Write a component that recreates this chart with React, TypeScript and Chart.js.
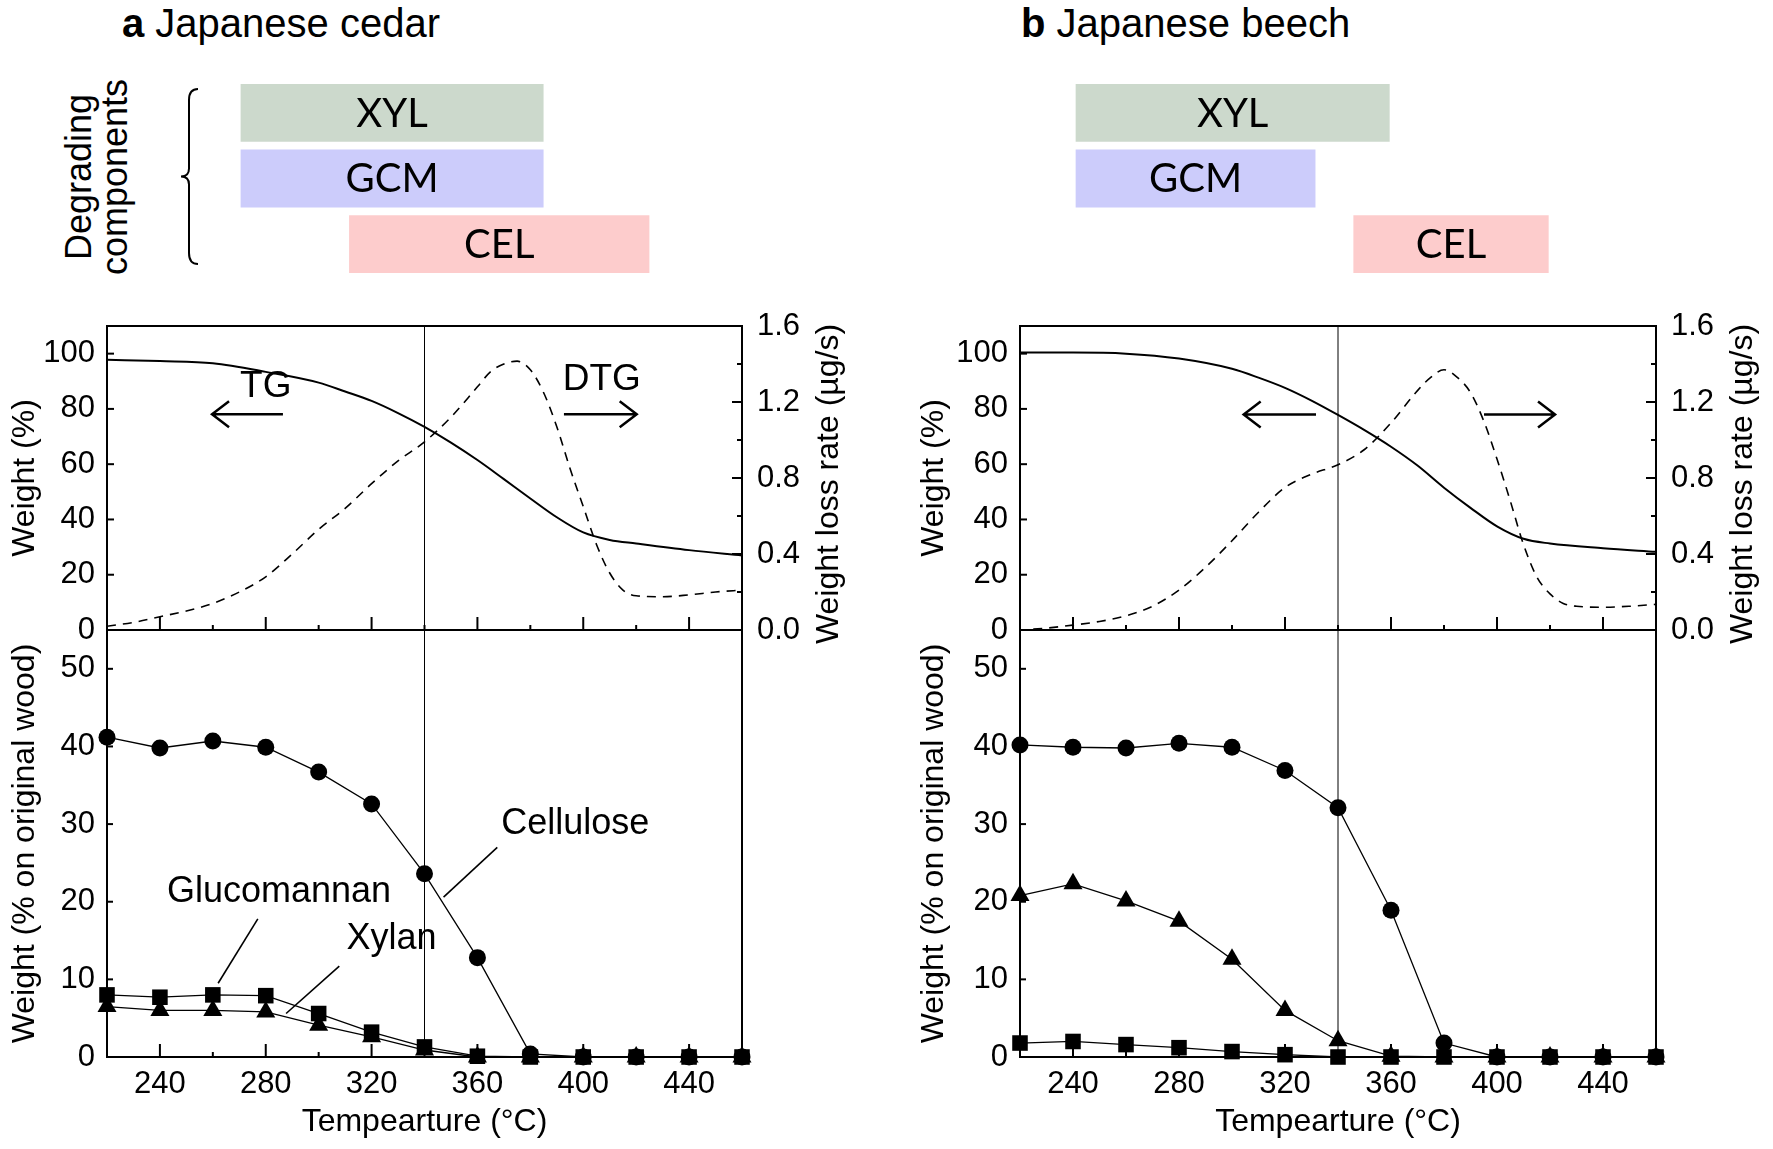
import React, { useEffect, useRef } from "react";
import { Chart, registerables } from "chart.js";

Chart.register(...registerables);

// ---------------- Data ----------------
const componentLabels = ["XYL", "GCM", "CEL"];
const rangesCedar: [number, number][] = [[270.5, 385], [270.5, 385], [311.5, 425]];
const rangesBeech: [number, number][] = [[241, 359.5], [241, 331.5], [345.8, 419.5]];
const barColors = ["#ccd9cc", "#ccccfb", "#fdcccc"];

// TG (weight %) - Japanese cedar
const tgTempA = [220, 240, 260, 280, 300, 310, 320, 330, 340, 350, 360, 370, 380, 390, 400, 410, 420, 440, 460];
const tgWeightA = [97.8, 97.3, 96.5, 93.4, 89.5, 86.3, 82.9, 78.5, 73.5, 67.8, 61.5, 54.6, 47.6, 40.8, 35.3, 32.6, 31.3, 28.9, 27];
// DTG (µg/s) - Japanese cedar
const dtgTempA = [220, 230, 240, 250, 260, 270, 280, 290, 300, 310, 320, 330, 340, 350, 360, 365, 370, 375, 380, 385, 390, 395, 400, 405, 410, 415, 420, 430, 440, 450, 460];
const dtgRateA = [0.02, 0.04, 0.07, 0.1, 0.14, 0.2, 0.28, 0.4, 0.53, 0.64, 0.77, 0.89, 0.99, 1.12, 1.28, 1.36, 1.4, 1.415, 1.37, 1.25, 1.07, 0.85, 0.65, 0.45, 0.3, 0.21, 0.18, 0.175, 0.185, 0.2, 0.21];

// TG - Japanese beech
const tgTempB = [220, 240, 260, 280, 300, 310, 320, 330, 340, 350, 360, 370, 380, 390, 400, 410, 420, 440, 460];
const tgWeightB = [100.4, 100.4, 100, 98.2, 94.5, 91.3, 87.6, 83, 77.8, 72.3, 66.3, 59.5, 51.5, 44.2, 37.5, 33, 31.3, 29.6, 28.3];
// DTG - Japanese beech
const dtgTempB = [225, 230, 240, 250, 260, 270, 280, 290, 300, 310, 320, 330, 340, 350, 360, 370, 375, 380, 385, 390, 395, 400, 405, 410, 415, 420, 425, 430, 440, 450, 460];
const dtgRateB = [0.005, 0.01, 0.026, 0.045, 0.075, 0.125, 0.21, 0.33, 0.47, 0.62, 0.75, 0.82, 0.87, 0.95, 1.09, 1.26, 1.33, 1.37, 1.33, 1.25, 1.1, 0.9, 0.68, 0.45, 0.28, 0.19, 0.14, 0.125, 0.12, 0.125, 0.135];

// Component contents (% on original wood)
const sampleTemps = [220, 240, 260, 280, 300, 320, 340, 360, 380, 400, 420, 440, 460];
const celluloseA = [41.2, 39.8, 40.7, 39.9, 36.7, 32.6, 23.6, 12.8, 0.4, 0, 0, 0, 0];
const glucomannanA = [8.0, 7.7, 8.0, 7.9, 5.6, 3.2, 1.3, 0.1, 0, 0, 0, 0, 0];
const xylanA = [6.5, 6.0, 6.0, 5.8, 4.1, 2.6, 0.9, 0, 0, 0, 0, 0, 0];
const celluloseB = [40.2, 39.9, 39.8, 40.4, 39.9, 36.9, 32.1, 18.9, 1.8, 0, 0, 0, 0];
const xylanB = [20.8, 22.3, 20.1, 17.5, 12.6, 6.0, 2.1, 0.1, 0, 0, 0, 0, 0];
const glucomannanB = [1.8, 2.0, 1.6, 1.2, 0.7, 0.3, 0, 0, 0, 0, 0, 0, 0];

// Ticks
const xTickLabels = [240, 280, 320, 360, 400, 440];
const xMinorTicks = [260, 300, 340, 380, 420];
const tgTicks = [0, 20, 40, 60, 80, 100];
const dtgTicks = [0, 0.4, 0.8, 1.2, 1.6];
const dtgMinorTicks = [0.2, 0.6, 1.0, 1.4];
const compTicks = [0, 10, 20, 30, 40, 50];
const refTemp = 340;

const FONT = "'Liberation Sans', Arial, Helvetica, sans-serif";

// --------------- Plugins ---------------
const decorPlugin = {
  id: "decor",
  afterDatasetsDraw(chart: any, _args: any, opts: any) {
    const { ctx, chartArea: ca, scales } = chart;
    const xs = scales.x;
    ctx.save();
    ctx.strokeStyle = "#000";
    ctx.fillStyle = "#000";
    if (opts.vline != null) {
      const px = xs.getPixelForValue(opts.vline);
      ctx.lineWidth = 1;
      ctx.beginPath();
      ctx.moveTo(px, ca.top);
      ctx.lineTo(px, ca.bottom);
      ctx.stroke();
    }
    (opts.ticks || []).forEach((t: any) => {
      const sc = scales[t.scale];
      ctx.lineWidth = 2;
      t.values.forEach((v: number) => {
        const p = sc.getPixelForValue(v);
        ctx.beginPath();
        if (t.side === "bottom") {
          ctx.moveTo(p, ca.bottom);
          ctx.lineTo(p, ca.bottom - t.len);
        } else if (t.side === "left") {
          ctx.moveTo(ca.left, p);
          ctx.lineTo(ca.left + t.len, p);
        } else {
          ctx.moveTo(ca.right, p);
          ctx.lineTo(ca.right - t.len, p);
        }
        ctx.stroke();
      });
    });
    if (opts.frame) {
      ctx.lineWidth = 2;
      ctx.strokeRect(ca.left, ca.top, ca.right - ca.left, ca.bottom - ca.top);
    }
    const ys = scales.y;
    (opts.lines || []).forEach((l: number[]) => {
      ctx.lineWidth = 1.6;
      ctx.beginPath();
      ctx.moveTo(xs.getPixelForValue(l[0]), ys.getPixelForValue(l[1]));
      ctx.lineTo(xs.getPixelForValue(l[2]), ys.getPixelForValue(l[3]));
      ctx.stroke();
    });
    (opts.texts || []).forEach((t: any) => {
      ctx.font = `${t.size}px ${FONT}`;
      ctx.textAlign = "center";
      ctx.textBaseline = "middle";
      ctx.fillText(t.text, xs.getPixelForValue(t.x), ys.getPixelForValue(t.y));
    });
    (opts.arrows || []).forEach((a: any) => {
      const x1 = xs.getPixelForValue(a.x1);
      const x2 = xs.getPixelForValue(a.x2);
      const y = ys.getPixelForValue(a.y);
      ctx.lineWidth = 2.5;
      ctx.lineCap = "butt";
      ctx.beginPath();
      ctx.moveTo(x1, y);
      ctx.lineTo(x2, y);
      const tip = a.dir === "left" ? x1 : x2;
      const s = a.dir === "left" ? 1 : -1;
      ctx.moveTo(tip + s * 17, y - 13);
      ctx.lineTo(tip, y);
      ctx.lineTo(tip + s * 17, y + 13);
      ctx.stroke();
    });
    if (opts.rightTitle) {
      const rt = opts.rightTitle;
      ctx.translate(ca.right + rt.dx, (ca.top + ca.bottom) / 2 + rt.dy);
      ctx.rotate(-Math.PI / 2);
      ctx.font = `${rt.size}px ${FONT}`;
      ctx.textAlign = "center";
      ctx.textBaseline = "middle";
      ctx.fillText(rt.text, 0, 0);
    }
    ctx.restore();
  },
};

const barLabelPlugin = {
  id: "barLabels",
  afterDatasetsDraw(chart: any, _args: any, opts: any) {
    const { ctx } = chart;
    const meta = chart.getDatasetMeta(0);
    ctx.save();
    ctx.fillStyle = "#000";
    ctx.font = "40px Lato, 'Open Sans', sans-serif";
    ctx.textAlign = "center";
    ctx.textBaseline = "middle";
    meta.data.forEach((el: any, i: number) => {
      ctx.fillText(chart.data.labels[i], (el.x + el.base) / 2, el.y + 1);
    });
    if (opts.brace) {
      const b = opts.brace;
      ctx.strokeStyle = "#000";
      ctx.lineWidth = 2;
      ctx.beginPath();
      ctx.moveTo(b.x + 9, b.top);
      ctx.quadraticCurveTo(b.x, b.top, b.x, b.top + 11);
      ctx.lineTo(b.x, b.mid - 8);
      ctx.quadraticCurveTo(b.x, b.mid, b.x - 8, b.mid);
      ctx.quadraticCurveTo(b.x, b.mid, b.x, b.mid + 8);
      ctx.lineTo(b.x, b.bottom - 11);
      ctx.quadraticCurveTo(b.x, b.bottom, b.x + 9, b.bottom);
      ctx.stroke();
    }
    ctx.restore();
  },
};

// --------------- Config builders ---------------
const pts = (xs: number[], ys: number[]) => xs.map((x, i) => ({ x, y: ys[i] }));

function barConfig(ranges: [number, number][], brace: any) {
  return {
    type: "bar",
    data: {
      labels: componentLabels,
      datasets: [
        {
          data: ranges,
          backgroundColor: barColors,
          borderWidth: 0,
          barPercentage: 0.88,
          categoryPercentage: 1,
        },
      ],
    },
    options: {
      indexAxis: "y",
      responsive: false,
      animation: false,
      events: [],
      layout: { padding: 0 },
      plugins: { legend: { display: false }, tooltip: { enabled: false }, barLabels: { brace } },
      scales: {
        x: { type: "linear", min: 220, max: 460, display: false },
        y: { type: "category", display: false },
      },
    },
    plugins: [barLabelPlugin],
  };
}

function topConfig(tgT: number[], tgW: number[], dT: number[], dR: number[], leftW: number, rightW: number, titlePad: number, texts: any[], arrows: any[]) {
  return {
    type: "line",
    data: {
      datasets: [
        { data: pts(tgT, tgW), yAxisID: "y", borderColor: "#000", borderWidth: 2, pointRadius: 0, cubicInterpolationMode: "monotone", fill: false },
        { data: pts(dT, dR), yAxisID: "y1", borderColor: "#000", borderWidth: 1.6, borderDash: [9, 7], pointRadius: 0, cubicInterpolationMode: "monotone", fill: false },
      ],
    },
    options: {
      responsive: false,
      animation: false,
      events: [],
      layout: { padding: { top: 40, bottom: 40, left: 0, right: 0 } },
      plugins: {
        legend: { display: false },
        tooltip: { enabled: false },
        decor: {
          frame: true,
          vline: refTemp,
          ticks: [
            { scale: "y", side: "left", values: tgTicks.slice(1), len: 7 },
            { scale: "y1", side: "right", values: dtgTicks.slice(1, -1), len: 10 },
            { scale: "y1", side: "right", values: dtgMinorTicks, len: 5 },
            { scale: "x", side: "bottom", values: xTickLabels, len: 13 },
            { scale: "x", side: "bottom", values: xMinorTicks, len: 5 },
          ],
          texts,
          arrows,
          rightTitle: { text: "Weight loss rate (µg/s)", dx: 87, dy: 6, size: 32 },
        },
      },
      scales: {
        x: { type: "linear", min: 220, max: 460, display: false },
        y: {
          type: "linear",
          position: "left",
          min: 0,
          max: 110,
          grid: { display: false, drawTicks: false },
          border: { display: false },
          afterFit: (s: any) => { s.width = leftW; },
          afterBuildTicks: (s: any) => { s.ticks = tgTicks.map((v) => ({ value: v })); },
          ticks: { padding: 12, font: { size: 31, family: FONT }, color: "#000" },
          title: { display: true, text: "Weight (%)", font: { size: 32, family: FONT }, color: "#000", padding: { top: titlePad, bottom: 0 } },
        },
        y1: {
          type: "linear",
          position: "right",
          min: 0,
          max: 1.6,
          grid: { display: false, drawTicks: false },
          border: { display: false },
          afterFit: (s: any) => { s.width = rightW; },
          afterBuildTicks: (s: any) => { s.ticks = dtgTicks.map((v) => ({ value: v })); },
          ticks: { padding: 15, font: { size: 31, family: FONT }, color: "#000", callback: (v: any) => Number(v).toFixed(1) },
        },
      },
    },
    plugins: [decorPlugin],
  };
}

function bottomConfig(cel: number[], glu: number[], xyl: number[], leftW: number, rightPad: number, titlePad: number, texts: any[], lines: any[]) {
  const common = { borderColor: "#000", backgroundColor: "#000", borderWidth: 1.3, pointBorderWidth: 0, clip: false, fill: false };
  return {
    type: "line",
    data: {
      datasets: [
        { ...common, data: pts(sampleTemps, xyl), pointStyle: "triangle", pointRadius: 11 },
        { ...common, data: pts(sampleTemps, glu), pointStyle: "rect", pointRadius: 11 },
        { ...common, data: pts(sampleTemps, cel), pointStyle: "circle", pointRadius: 8.5 },
      ],
    },
    options: {
      responsive: false,
      animation: false,
      events: [],
      layout: { padding: { top: 40, bottom: 0, left: 0, right: rightPad } },
      plugins: {
        legend: { display: false },
        tooltip: { enabled: false },
        decor: {
          frame: true,
          vline: refTemp,
          ticks: [
            { scale: "y", side: "left", values: compTicks.slice(1), len: 6 },
            { scale: "x", side: "bottom", values: xTickLabels, len: 13 },
            { scale: "x", side: "bottom", values: xMinorTicks, len: 5 },
          ],
          texts,
          lines,
        },
      },
      scales: {
        x: {
          type: "linear",
          position: "bottom",
          min: 220,
          max: 460,
          grid: { display: false, drawTicks: false },
          border: { display: false },
          afterBuildTicks: (s: any) => { s.ticks = xTickLabels.map((v) => ({ value: v })); },
          afterFit: (s: any) => { s.height = 92; },
          ticks: { padding: 9, font: { size: 31, family: FONT }, color: "#000", maxRotation: 0, autoSkip: false },
          title: { display: true, text: "Tempearture (°C)", font: { size: 32, family: FONT }, color: "#000", padding: { top: 0, bottom: 8 } },
        },
        y: {
          type: "linear",
          position: "left",
          min: 0,
          max: 55,
          grid: { display: false, drawTicks: false },
          border: { display: false },
          afterFit: (s: any) => { s.width = leftW; },
          afterBuildTicks: (s: any) => { s.ticks = compTicks.map((v) => ({ value: v })); },
          ticks: { padding: 12, font: { size: 31, family: FONT }, color: "#000" },
          title: { display: true, text: "Weight (% on original wood)", font: { size: 32, family: FONT }, color: "#000", padding: { top: titlePad, bottom: 0 } },
        },
      },
    },
    plugins: [decorPlugin],
  };
}

// --------------- Layout ---------------
type Spec = { left: number; top: number; w: number; h: number; cfg: any };

const specs: Spec[] = [
  // Panel a
  { left: 107, top: 80, w: 635, h: 197, cfg: barConfig(rangesCedar, { x: 82, top: 9, mid: 96.5, bottom: 184 }) },
  {
    left: 0, top: 286, w: 860, h: 384,
    cfg: topConfig(tgTempA, tgWeightA, dtgTempA, dtgRateA, 107, 118, 6,
      [{ text: "TG", x: 280, y: 88, size: 37 }, { text: "DTG", x: 407, y: 90.4, size: 37 }],
      [{ x1: 259.7, x2: 286.5, y: 78.1, dir: "left" }, { x1: 392.7, x2: 420.2, y: 78.1, dir: "right" }]),
  },
  {
    left: 0, top: 590, w: 860, h: 559,
    cfg: bottomConfig(celluloseA, glucomannanA, xylanA, 107, 118, 6,
      [{ text: "Cellulose", x: 397, y: 30, size: 36 }, { text: "Glucomannan", x: 285, y: 21.3, size: 36 }, { text: "Xylan", x: 327.5, y: 15.2, size: 36 }],
      [[367.5, 27, 347.2, 20.6], [277, 17.8, 262, 9.5], [307.8, 11.7, 287.7, 5.6]]),
  },
  // Panel b
  { left: 1020, top: 80, w: 636, h: 197, cfg: barConfig(rangesBeech, null) },
  {
    left: 900, top: 286, w: 873, h: 384,
    cfg: topConfig(tgTempB, tgWeightB, dtgTempB, dtgRateB, 120, 117, 15, [],
      [{ x1: 304.4, x2: 331.7, y: 78, dir: "left" }, { x1: 395.1, x2: 421.9, y: 78, dir: "right" }]),
  },
  {
    left: 900, top: 590, w: 873, h: 559,
    cfg: bottomConfig(celluloseB, glucomannanB, xylanB, 120, 117, 15, [], []),
  },
];

export default function App() {
  const refs = useRef<(HTMLCanvasElement | null)[]>([]);

  useEffect(() => {
    Chart.defaults.font.family = FONT;
    Chart.defaults.color = "#000";
    const charts = specs.map((s, i) => new Chart(refs.current[i] as HTMLCanvasElement, s.cfg));
    return () => charts.forEach((c) => c.destroy());
  }, []);

  const titleStyle: React.CSSProperties = {
    position: "absolute",
    top: 3,
    font: `40px ${FONT}`,
    lineHeight: "40px",
    whiteSpace: "nowrap",
    color: "#000",
  };

  return (
    <div style={{ position: "fixed", left: 0, top: 0, width: 1773, height: 1149, background: "#fff", overflow: "hidden" }}>
      <div style={{ ...titleStyle, left: 122 }}>
        <b>a</b> Japanese cedar
      </div>
      <div style={{ ...titleStyle, left: 1021 }}>
        <b>b</b> Japanese beech
      </div>
      <div
        style={{
          position: "absolute",
          left: 97,
          top: 177,
          transform: "translate(-50%, -50%) rotate(-90deg)",
          font: `36px ${FONT}`,
          lineHeight: "36px",
          textAlign: "center",
          whiteSpace: "nowrap",
          color: "#000",
        }}
      >
        Degrading
        <br />
        components
      </div>
      {specs.map((s, i) => (
        <canvas
          key={i}
          ref={(el) => { refs.current[i] = el; }}
          width={s.w}
          height={s.h}
          style={{ position: "absolute", left: s.left, top: s.top, width: s.w, height: s.h }}
        />
      ))}
    </div>
  );
}
